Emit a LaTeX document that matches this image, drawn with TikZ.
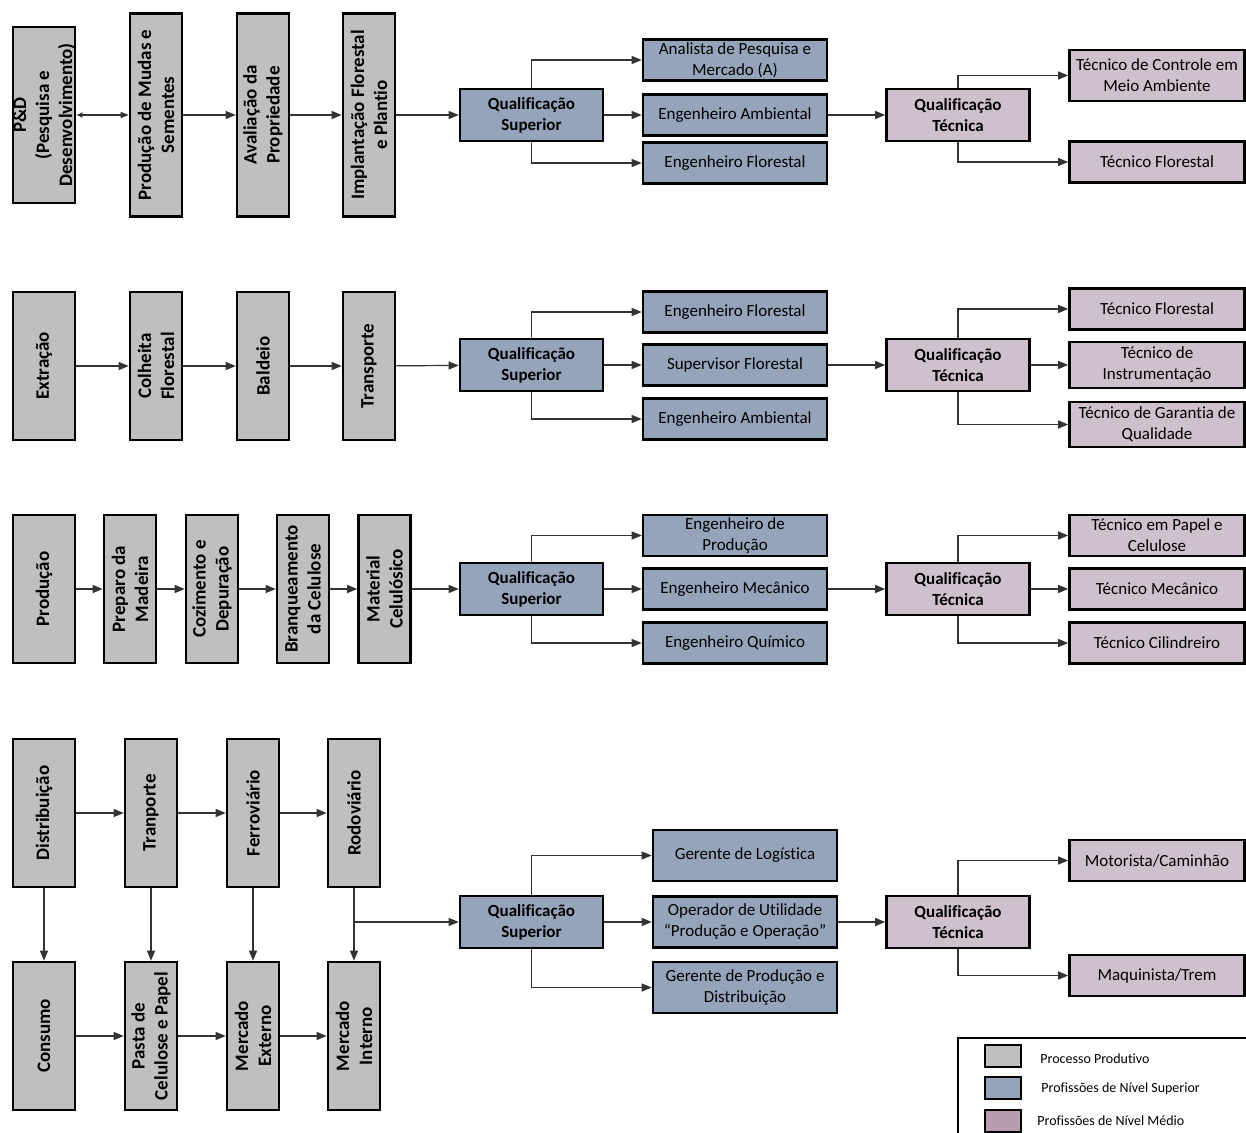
\documentclass[tikz,border=0pt]{standalone}
\usepackage{fontspec}
\setmainfont{Carlito}[Ligatures=NoCommon]
\usetikzlibrary{arrows.meta}
\definecolor{procgray}{RGB}{191,191,191}
\definecolor{supblue}{RGB}{150,164,187}
\definecolor{medpink}{RGB}{206,192,204}
\definecolor{legpink}{RGB}{184,156,175}

\begin{document}
\begin{tikzpicture}[x=0.5pt, y=-0.5pt,
  proc/.style={rectangle, draw=black, line width=1.3pt, fill=procgray, rotate=90,
               minimum width=74pt, minimum height=26pt, inner sep=1pt, align=center,
               font=\fontsize{9.5}{11.5}\selectfont\bfseries},
  tall/.style={minimum width=101.5pt},
  wide/.style={minimum height=31pt},
  proctext/.style={rotate=90, align=center, inner sep=0pt,
               font=\fontsize{9.5}{11.5}\selectfont\bfseries},
  qual/.style={rectangle, draw=black, line width=1.3pt, minimum width=71.5pt,
               minimum height=26pt, inner sep=1pt, align=center,
               font=\fontsize{8.5}{10.5}\selectfont\bfseries},
  sup/.style={qual, fill=supblue},
  tec/.style={qual, fill=medpink},
  job/.style={rectangle, draw=black, line width=1.3pt, minimum width=92pt,
              minimum height=20.5pt, inner sep=1pt, align=center,
              font=\fontsize{8.5}{10.5}\selectfont},
  jobsup/.style={job, fill=supblue},
  jobtec/.style={job, fill=medpink, minimum width=87.5pt},
  swatch/.style={rectangle, draw=black, line width=1.3pt, minimum width=18pt,
                 minimum height=11pt, inner sep=0pt},
  legtext/.style={anchor=west, inner sep=0pt, font=\fontsize{7}{8}\selectfont},
  arrow/.style={-{Triangle[length=5pt,width=4pt]}, line width=0.6pt, draw=black!80}]

\useasboundingbox (0,0) rectangle (1246,1133);

% linha 1: pesquisa e implantacao
\node[proc, minimum width=88pt, wide] (pd) at (44,115) {};
\node[proctext] (pdtext) at (pd) {P\&D\\(Pesquisa e\\Desenvolvimento)};
\node[proc, tall] (mudas) at (156,115) {Produção de Mudas e\\Sementes};
\node[proc, tall] (aval)  at (263,115) {Avaliação da\\Propriedade};
\node[proc, tall] (impl)  at (369,115) {Implantação Florestal\\e Plantio};

\node[sup] (qs1) at (531.5,115) {Qualificação\\Superior};
\node[jobsup] (analista) at (735,60)  {Analista de Pesquisa e\\Mercado (A)};
\node[jobsup] (ambA)     at (735,115) {Engenheiro Ambiental};
\node[jobsup] (florA)    at (735,163) {Engenheiro Florestal};

\node[tec] (qt1) at (958,115) {Qualificação\\Técnica};
\node[jobtec, minimum height=25.5pt] (tcontrole) at (1157,75.5) {Técnico de Controle em\\Meio Ambiente};
\node[jobtec] (tflorA) at (1157,162) {Técnico Florestal};

\draw[{Latex[length=3pt,width=3pt]}-{Triangle[length=4pt,width=3pt]}, line width=0.6pt, draw=black!80] (pd) -- (mudas);
\draw[arrow] (mudas) -- (aval);
\draw[arrow] (aval) -- (impl);
\draw[arrow] (impl) -- (qs1);
\draw[arrow] (qs1.north) |- (analista.west);
\draw[arrow] (qs1) -- (ambA);
\draw[arrow] (qs1.south) |- (florA.west);
\draw[arrow] (ambA) -- (qt1);
\draw[arrow] (qt1.north) |- (tcontrole.west);
\draw[arrow] (qt1.south) |- (tflorA.west);

% linha 2: extracao
\node[proc, wide] (extr)   at (44,366)  {Extração};
\node[proc] (colh)   at (156,366) {Colheita\\Florestal};
\node[proc] (bald)   at (263,366) {Baldeio};
\node[proc] (transp) at (369,366) {Transporte};

\node[sup] (qs2) at (531.5,365) {Qualificação\\Superior};
\node[jobsup] (florB)  at (735,312) {Engenheiro Florestal};
\node[jobsup] (superv) at (735,365) {Supervisor Florestal};
\node[jobsup] (ambB)   at (735,419) {Engenheiro Ambiental};

\node[tec] (qt2) at (958,365) {Qualificação\\Técnica};
\node[jobtec] (tflorB) at (1157,309) {Técnico Florestal};
\node[jobtec, minimum height=23pt] (tinstr) at (1157,365) {Técnico de\\Instrumentação};
\node[jobtec, minimum height=22.5pt] (tgarant) at (1157,424.5) {Técnico de Garantia de\\Qualidade};

\draw[arrow] (extr) -- (colh);
\draw[arrow] (colh) -- (bald);
\draw[arrow] (bald) -- (transp);
\draw[arrow] (transp) -- (qs2);
\draw[arrow] (qs2.north) |- (florB.west);
\draw[arrow] (qs2) -- (superv);
\draw[arrow] (qs2.south) |- (ambB.west);
\draw[arrow] (superv) -- (qt2);
\draw[arrow] (qt2.north) |- (tflorB.west);
\draw[arrow] (qt2) -- (tinstr);
\draw[arrow] (qt2.south) |- (tgarant.west);

% linha 3: producao
\node[proc, wide] (prod) at (44,589)    {Produção};
\node[proc] (prep) at (130,589)   {Preparo da\\Madeira};
\node[proc] (coz)  at (212,589)   {Cozimento e\\Depuração};
\node[proc] (bran) at (303,589)   {Branqueamento\\da Celulose};
\node[proc] (mat)  at (384.5,589) {Material\\Celulósico};

\node[sup] (qs3) at (531.5,589) {Qualificação\\Superior};
\node[jobsup] (engprod) at (735,535.5) {Engenheiro de\\Produção};
\node[jobsup] (engmec)  at (735,589)   {Engenheiro Mecânico};
\node[jobsup] (engquim) at (735,643)   {Engenheiro Químico};

\node[tec] (qt3) at (958,589) {Qualificação\\Técnica};
\node[jobtec] (tpapel) at (1157,535.5) {Técnico em Papel e\\Celulose};
\node[jobtec] (tmec)   at (1157,589)   {Técnico Mecânico};
\node[jobtec] (tcil)   at (1157,643)   {Técnico Cilindreiro};

\draw[arrow] (prod) -- (prep);
\draw[arrow] (prep) -- (coz);
\draw[arrow] (coz) -- (bran);
\draw[arrow] (bran) -- (mat);
\draw[arrow] (mat) -- (qs3);
\draw[arrow] (qs3.north) |- (engprod.west);
\draw[arrow] (qs3) -- (engmec);
\draw[arrow] (qs3.south) |- (engquim.west);
\draw[arrow] (engmec) -- (qt3);
\draw[arrow] (qt3.north) |- (tpapel.west);
\draw[arrow] (qt3) -- (tmec);
\draw[arrow] (qt3.south) |- (tcil.west);

% linha 4: distribuicao e consumo
\node[proc, wide] (distr) at (44,813)  {Distribuição};
\node[proc] (tranp) at (151,813) {Tranporte};
\node[proc] (ferro) at (253,813) {Ferroviário};
\node[proc] (rodo)  at (354,813) {Rodoviário};
\node[proc, wide] (cons)  at (44,1036)  {Consumo};
\node[proc] (pasta) at (151,1036) {Pasta de\\Celulose e Papel};
\node[proc] (mext)  at (253,1036) {Mercado\\Externo};
\node[proc] (mint)  at (354,1036) {Mercado\\Interno};
\coordinate (rodobr) at (354,922);

\node[sup] (qs4) at (531.5,922) {Qualificação\\Superior};
\node[jobsup, minimum height=25.5pt] (gerlog) at (745,855.5) {Gerente de Logística};
\node[jobsup, minimum height=25.5pt] (operad) at (745,922)   {Operador de Utilidade\\“Produção e Operação”};
\node[jobsup, minimum height=25.5pt] (gerprod) at (745,987.5) {Gerente de Produção e\\Distribuição};

\node[tec] (qt4) at (958,922) {Qualificação\\Técnica};
\node[jobtec] (motor) at (1157,860.5) {Motorista/Caminhão};
\node[jobtec] (maqui) at (1157,975.5) {Maquinista/Trem};

\draw[arrow] (distr) -- (tranp);
\draw[arrow] (tranp) -- (ferro);
\draw[arrow] (ferro) -- (rodo);
\draw[arrow] (cons) -- (pasta);
\draw[arrow] (pasta) -- (mext);
\draw[arrow] (mext) -- (mint);
\draw[arrow] (distr) -- (cons);
\draw[arrow] (tranp) -- (pasta);
\draw[arrow] (ferro) -- (mext);
\draw[arrow] (rodo) -- (mint);
\draw[arrow] (rodobr) -- (qs4);
\draw[arrow] (qs4.north) |- (gerlog.west);
\draw[arrow] (qs4) -- (operad);
\draw[arrow] (qs4.south) |- (gerprod.west);
\draw[arrow] (operad) -- (qt4);
\draw[arrow] (qt4.north) |- (motor.west);
\draw[arrow] (qt4.south) |- (maqui.west);

% legenda
\draw[line width=0.8pt] (958,1038) rectangle (1270,1160);
\node[swatch, fill=procgray] (legproc) at (1003,1056) {};
\node[swatch, fill=supblue]  (legsup)  at (1003,1088) {};
\node[swatch, fill=legpink]  (legmed)  at (1003,1121) {};
\node[legtext] (legproctxt) at (1040,1059) {Processo Produtivo};
\node[legtext] (legsuptxt)  at (1041,1089) {Profissões de Nível Superior};
\node[legtext] (legmedtxt)  at (1037,1121) {Profissões de Nível Médio};
\end{tikzpicture}
\end{document}
